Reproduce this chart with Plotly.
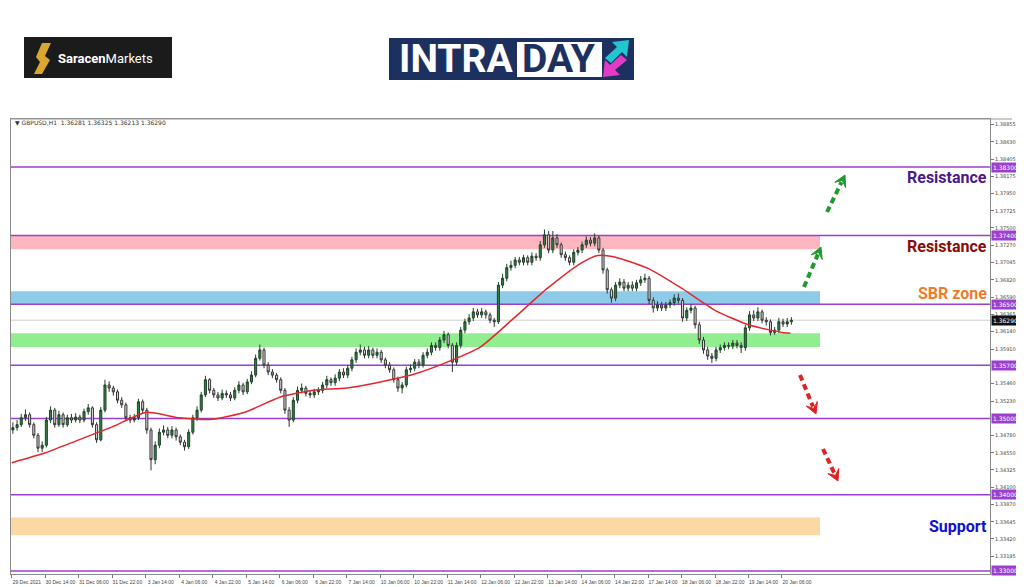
import plotly.graph_objects as go

# Prices are in points (0.0001) above 1.3000.
OPEN_FIRST = 485
CLOSE = [488, 492, 501, 505, 492, 478, 461, 465, 498, 511,
         492, 505, 492, 501, 498, 502, 498, 509, 514, 492,
         472, 511, 544, 540, 535, 524, 518, 501, 498, 501,
         522, 511, 485, 446, 465, 482, 485, 478, 485, 476,
         469, 463, 482, 501, 511, 531, 551, 537, 531, 527,
         533, 531, 527, 537, 544, 535, 548, 557, 579, 590,
         570, 561, 557, 551, 537, 511, 498, 524, 537, 540,
         533, 531, 535, 537, 544, 551, 547, 553, 561, 557,
         566, 577, 587, 590, 583, 590, 583, 587, 577, 570,
         564, 551, 540, 544, 564, 566, 574, 570, 583, 587,
         596, 593, 603, 610, 596, 574, 596, 616, 627, 632,
         640, 636, 640, 636, 629, 627, 675, 684, 698, 701,
         708, 705, 711, 705, 713, 711, 728, 741, 721, 737,
         728, 715, 711, 705, 718, 721, 728, 734, 730, 737,
         721, 695, 669, 658, 675, 679, 671, 675, 671, 678,
         682, 684, 655, 645, 649, 645, 649, 652, 658, 655,
         632, 642, 645, 623, 603, 590, 582, 579, 590, 593,
         596, 595, 599, 596, 593, 619, 636, 632, 640, 629,
         627, 613, 616, 627, 624, 627, 629]
HIGH = [495, 498, 506, 512, 508, 495, 481, 470, 502, 516,
        514, 510, 508, 505, 506, 507, 505, 513, 519, 516,
        495, 515, 551, 549, 543, 538, 528, 521, 505, 506,
        526, 525, 514, 488, 470, 487, 491, 489, 490, 488,
        479, 472, 486, 505, 516, 535, 556, 553, 540, 535,
        538, 537, 535, 541, 549, 547, 552, 562, 584, 597,
        593, 574, 565, 560, 554, 540, 515, 528, 542, 546,
        543, 537, 539, 541, 548, 556, 554, 558, 565, 566,
        570, 581, 592, 597, 594, 595, 593, 592, 590, 580,
        574, 567, 555, 548, 568, 571, 578, 578, 587, 592,
        600, 600, 607, 615, 613, 599, 600, 620, 631, 637,
        645, 644, 645, 643, 639, 632, 679, 690, 703, 707,
        712, 712, 715, 714, 718, 717, 733, 748, 746, 746,
        742, 731, 719, 714, 722, 725, 732, 739, 738, 743,
        740, 724, 698, 672, 679, 684, 683, 679, 680, 682,
        687, 690, 687, 659, 654, 653, 653, 656, 663, 664,
        658, 646, 650, 648, 627, 607, 594, 586, 594, 597,
        600, 600, 603, 603, 600, 623, 641, 642, 646, 643,
        633, 630, 620, 632, 631, 632, 633]
LOW = [480, 484, 489, 497, 488, 474, 456, 456, 462, 494,
       488, 489, 488, 489, 494, 495, 494, 495, 505, 488,
       468, 470, 508, 535, 530, 520, 514, 498, 494, 495,
       498, 507, 480, 432, 440, 461, 478, 474, 474, 471,
       465, 458, 460, 479, 497, 508, 528, 533, 527, 523,
       524, 527, 523, 524, 533, 531, 532, 545, 554, 576,
       566, 557, 553, 547, 533, 506, 489, 495, 520, 533,
       529, 527, 527, 531, 533, 540, 543, 543, 549, 553,
       553, 562, 573, 583, 579, 579, 579, 579, 573, 566,
       560, 547, 535, 533, 541, 560, 562, 566, 567, 579,
       583, 589, 589, 599, 592, 561, 570, 592, 612, 623,
       628, 632, 632, 631, 625, 620, 624, 671, 680, 694,
       697, 701, 701, 701, 701, 707, 707, 724, 717, 717,
       724, 711, 707, 701, 701, 714, 717, 724, 726, 726,
       717, 690, 664, 652, 654, 671, 667, 667, 667, 667,
       674, 678, 650, 639, 641, 641, 641, 645, 648, 651,
       627, 628, 638, 618, 598, 585, 577, 573, 575, 586,
       589, 591, 591, 592, 586, 589, 615, 628, 628, 625,
       622, 609, 610, 612, 620, 620, 623]

# red moving average, read roughly every 16 hours
MA_HOURS = [0, 16, 32, 48, 64, 80, 96, 112, 128, 144, 160, 176, 192,
            208, 224, 240, 256, 272, 280, 288, 304, 320, 336, 352, 368, 372]
MA_POINTS = [442, 455, 472, 489, 508, 501, 499, 509, 528, 537, 540, 548, 558,
             574, 594, 632, 671, 704, 714, 712, 697, 671, 642, 623, 613, 612]

X_LABELS = ["29 Dec 2021", "30 Dec 14:00", "31 Dec 06:00", "31 Dec 22:00",
            "3 Jan 14:00", "4 Jan 06:00", "4 Jan 22:00", "5 Jan 14:00",
            "6 Jan 06:00", "6 Jan 22:00", "7 Jan 14:00", "10 Jan 06:00",
            "10 Jan 22:00", "11 Jan 14:00", "12 Jan 06:00", "12 Jan 22:00",
            "13 Jan 14:00", "14 Jan 06:00", "14 Jan 22:00", "17 Jan 14:00",
            "18 Jan 06:00", "18 Jan 22:00", "19 Jan 14:00", "20 Jan 06:00"]

Y_TICKS = [1.38855, 1.38630, 1.38405, 1.38175, 1.37950, 1.37725, 1.37500,
           1.37270, 1.37045, 1.36820, 1.36590, 1.36365, 1.36140, 1.35910,
           1.35460, 1.35230, 1.34780, 1.34550, 1.34325, 1.34100, 1.33870,
           1.33645, 1.33420, 1.33195]

LEVELS = [1.38300, 1.37400, 1.36500, 1.35700, 1.35000, 1.34000, 1.33000]
LAST_PRICE = 1.36290

ZONE_TOP = [1.3740, 1.3667, 1.3612, 1.3370]
ZONE_BOTTOM = [1.3722, 1.3650, 1.3594, 1.3347]
ZONE_COLORS = ['#ffb6c1', '#8ecbe8', '#90ee90', '#fcd8a4']

LABELS = ["Resistance", "Resistance", "SBR zone", "Support"]
LABEL_PRICES = [1.3816, 1.3726, 1.3664, 1.3358]
LABEL_COLORS = ['#4b1a86', '#8b0a0a', '#ee7b30', '#1010d0']

PURPLE = '#9b3fd0'


def price(v):
    return 1.3 + v / 10000


# pixel -> paper helpers, in screen pixels (plot area spans x 11..990, y 119..574)
def px(x):
    return (x - 11) / 979


def py(y):
    return (574 - y) / 455


opens = [OPEN_FIRST] + CLOSE[:-1]
xs = [2 * k + 0.5 for k in range(len(CLOSE))]

fig = go.Figure()
fig.add_trace(go.Candlestick(
    x=xs,
    open=[price(v) for v in opens], high=[price(v) for v in HIGH],
    low=[price(v) for v in LOW], close=[price(v) for v in CLOSE],
    increasing=dict(line=dict(color='#1f4428', width=1), fillcolor='#357f48'),
    decreasing=dict(line=dict(color='#333333', width=1), fillcolor='#dcdcdc'),
    whiskerwidth=0, showlegend=False, hoverinfo='skip',
))
fig.add_trace(go.Scatter(
    x=MA_HOURS, y=[price(v) for v in MA_POINTS], mode='lines', line_shape='spline',
    line=dict(color='#e3262b', width=1.5, smoothing=0.6), showlegend=False, hoverinfo='skip',
))

shapes = []
for top, bot, col in zip(ZONE_TOP, ZONE_BOTTOM, ZONE_COLORS):
    shapes.append(dict(type='rect', xref='paper', yref='y', x0=0, x1=px(820),
                       y0=bot, y1=top, fillcolor=col, line=dict(width=0), layer='below'))
shapes.append(dict(type='line', xref='paper', yref='y', x0=0, x1=1, y0=LAST_PRICE, y1=LAST_PRICE,
                   line=dict(color='#cfcfcf', width=1), layer='below'))
for lv in LEVELS:
    shapes.append(dict(type='line', xref='paper', yref='y', x0=0, x1=1, y0=lv, y1=lv,
                       line=dict(color=PURPLE, width=1.5), layer='below'))
# window frame top line
shapes.append(dict(type='line', xref='paper', yref='paper', x0=px(10), x1=px(1012), y0=py(119), y1=py(119),
                   line=dict(color='#9a9a9a', width=1)))


def dashed_arrow(x0, y0, x1, y1, color):
    dx, dy = x1 - x0, y1 - y0
    length = (dx * dx + dy * dy) ** 0.5
    ux, uy = dx / length, dy / length
    head = 11
    bx, by = x1 - ux * head, y1 - uy * head
    shapes.append(dict(type='line', xref='paper', yref='paper',
                       x0=px(x0), y0=py(y0), x1=px(bx + ux * 3), y1=py(by + uy * 3),
                       line=dict(color=color, width=4, dash='6px,4px')))
    nx, ny = -uy, ux
    w = 6
    pts = [(x1, y1), (bx + nx * w, by + ny * w), (x1 - ux * head * 0.55, y1 - uy * head * 0.55),
           (bx - nx * w, by - ny * w)]
    path = 'M ' + ' L '.join(f'{px(a):.5f},{py(b):.5f}' for a, b in pts) + ' Z'
    shapes.append(dict(type='path', path=path, xref='paper', yref='paper',
                       fillcolor=color, line=dict(color=color, width=1)))


dashed_arrow(827, 212, 845, 175, '#1f9a2e')
dashed_arrow(804, 287, 821, 247, '#1f9a2e')
dashed_arrow(800, 375, 816, 414, '#e02222')
dashed_arrow(823, 449, 838, 481, '#e02222')


def poly(points, color):
    path = 'M ' + ' L '.join(f'{px(a):.5f},{py(b):.5f}' for a, b in points) + ' Z'
    shapes.append(dict(type='path', path=path, xref='paper', yref='paper',
                       fillcolor=color, line=dict(width=0)))


# logos
shapes.append(dict(type='rect', xref='paper', yref='paper', x0=px(24), x1=px(172), y0=py(78), y1=py(37),
                   fillcolor='#1b1b1b', line=dict(width=0)))
poly([(42, 43), (51, 43), (45, 56), (50, 60), (42, 74), (34, 74), (40, 62), (36, 57)], '#d9a630')
shapes.append(dict(type='rect', xref='paper', yref='paper', x0=px(389), x1=px(634), y0=py(80), y1=py(38),
                   fillcolor='#1d3160', line=dict(width=0)))
shapes.append(dict(type='rect', xref='paper', yref='paper', x0=px(517), x1=px(602), y0=py(77), y1=py(42),
                   fillcolor='#ffffff', line=dict(width=0)))
poly([(629, 40), (612, 42), (617, 47), (605, 58), (611, 63), (622, 52), (627, 57)], '#22c4cf')
poly([(603, 77), (620, 75), (615, 70), (627, 60), (621, 55), (610, 65), (605, 60)], '#e33bc6')

annotations = []
for lv in LEVELS:
    annotations.append(dict(x=1, y=lv, xref='paper', yref='y', xanchor='left', yanchor='middle',
                            xshift=1, text=f'{lv:.5f}', showarrow=False, bgcolor=PURPLE,
                            font=dict(size=6, color='white'), borderpad=1))
annotations.append(dict(x=1, y=LAST_PRICE, xref='paper', yref='y', xanchor='left', yanchor='middle',
                        xshift=1, text=f'{LAST_PRICE:.5f}', showarrow=False, bgcolor='#111111',
                        font=dict(size=6, color='white'), borderpad=1))
for txt, yv, col in zip(LABELS, LABEL_PRICES, LABEL_COLORS):
    annotations.append(dict(x=px(989), y=yv, xref='paper', yref='y', xanchor='right', yanchor='middle',
                            text=f'<b>{txt}</b>', showarrow=False,
                            font=dict(size=16, color=col, family='Roboto')))
annotations.append(dict(x=px(13), y=py(123), xref='paper', yref='paper', xanchor='left', yanchor='middle',
                        text='▼ GBPUSD,H1  1.36281 1.36325 1.36213 1.36290', showarrow=False,
                        font=dict(size=6, color='#333333')))
annotations.append(dict(x=px(56), y=py(58), xref='paper', yref='paper', xanchor='left', yanchor='middle',
                        text='<b>Saracen</b>Markets', showarrow=False,
                        font=dict(size=13, color='#ffffff', family='Roboto')))
annotations.append(dict(x=px(456), y=py(59), xref='paper', yref='paper', xanchor='center', yanchor='middle',
                        text='<b>INTRA</b>', showarrow=False,
                        font=dict(size=39, color='#ffffff', family='Roboto', weight=900)))
annotations.append(dict(x=px(559), y=py(59), xref='paper', yref='paper', xanchor='center', yanchor='middle',
                        text='<b>DAY</b>', showarrow=False,
                        font=dict(size=39, color='#1d3160', family='Roboto', weight=900)))

# the page body adds an 8px offset, so the figure is 8px smaller than the window
fig.update_layout(
    width=1016, height=579,
    paper_bgcolor='white', plot_bgcolor='white',
    margin=dict(l=3, r=34, t=111, b=13),
    font=dict(family='DejaVu Sans', color='#444444'),
    showlegend=False,
    shapes=shapes,
    annotations=annotations,
    xaxis=dict(
        range=[-0.4, 467.4], tickvals=[16 * j for j in range(len(X_LABELS))], ticktext=X_LABELS,
        tickfont=dict(size=5, color='#444444', family='Liberation Sans'),
        ticks='outside', ticklen=3, tickcolor='#777777',
        tickangle=0, automargin=False,
        ticklabelshift=15, ticklabelstandoff=0,
        showline=True, linecolor='#8a8a8a', mirror=True, showgrid=False, zeroline=False,
        rangeslider=dict(visible=False),
    ),
    yaxis=dict(
        side='right', range=[1.329602, 1.389298], tickvals=Y_TICKS,
        ticktext=[f'{v:.5f}' for v in Y_TICKS], automargin=False,
        tickfont=dict(size=5, color='#444444'), ticks='outside', ticklen=3, tickcolor='#777777',
        showline=True, linecolor='#8a8a8a', mirror=True, showgrid=False, zeroline=False,
    ),
)

fig.write_html("out.html")
